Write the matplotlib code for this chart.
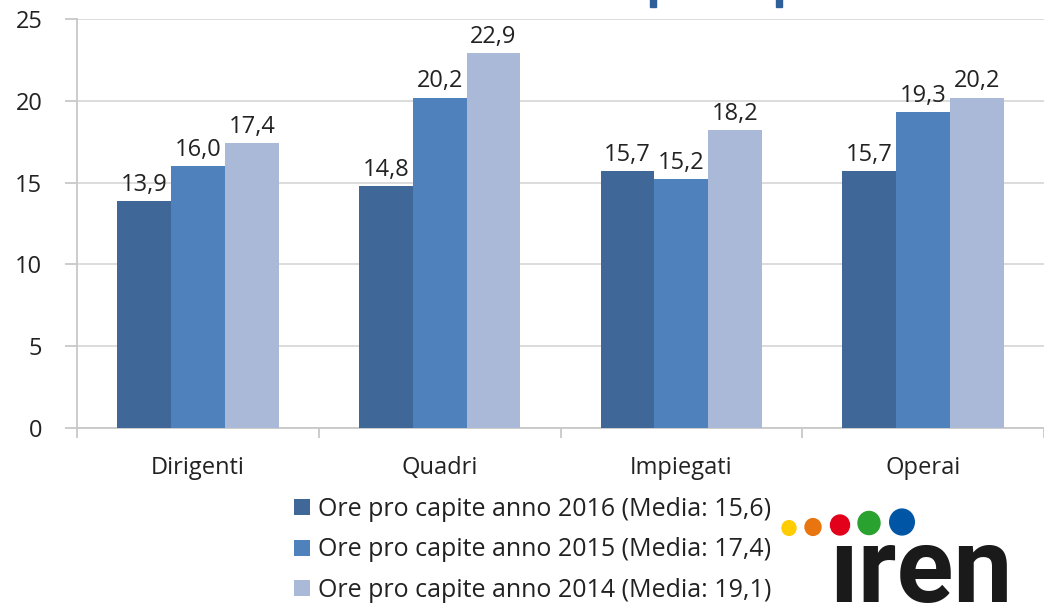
import numpy as np
import matplotlib.pyplot as plt
import matplotlib.patches as patches

plt.rcParams['font.family'] = ['Open Sans', 'DejaVu Sans']

# data
categories = ["Dirigenti", "Quadri", "Impiegati", "Operai"]
series_labels = [
    "Ore pro capite anno 2016 (Media: 15,6)",
    "Ore pro capite anno 2015 (Media: 17,4)",
    "Ore pro capite anno 2014 (Media: 19,1)",
]
ore_2016 = [13.9, 14.8, 15.7, 15.7]
ore_2015 = [16.0, 20.2, 15.2, 19.3]
ore_2014 = [17.4, 22.9, 18.2, 20.2]
y_ticks = [0, 5, 10, 15, 20, 25]

colors = ["#3F6899", "#4F81BD", "#AAB9D8"]
grid_col = "#D9D9D9"
axis_col = "#C8C8C8"

W, H = 1044, 603
fig = plt.figure(figsize=(W / 100, H / 100), dpi=100)
ax = fig.add_axes([77 / W, 1 - 428 / H, 1 - 77 / W, (428 - 19) / H])

x = np.arange(len(categories))
bw = 0.223
for i, vals in enumerate([ore_2016, ore_2015, ore_2014]):
    bars = ax.bar(x + (i - 1) * bw, vals, width=bw, color=colors[i],
                  label=series_labels[i], zorder=3)
    for b, v in zip(bars, vals):
        ax.text(b.get_x() + b.get_width() / 2, v + 0.25, f"{v:.1f}".replace(".", ","),
                ha="center", va="bottom", fontsize=17, color="#222222", zorder=4)

ax.set_xlim(-0.5, 3.5)
ax.set_ylim(0, 25)
ax.set_yticks(y_ticks)
ax.set_yticklabels([str(t) for t in y_ticks])
ax.yaxis.grid(True, color=grid_col, linewidth=1.3, zorder=0)

# category boundaries as minor ticks
ax.set_xticks(x)
ax.set_xticklabels(categories)
ax.set_xticks(np.arange(-0.5, 3.6, 1.0), minor=True)
ax.tick_params(axis="x", which="major", length=0, pad=20, labelsize=17, labelcolor="#222222")
ax.tick_params(axis="x", which="minor", length=7, width=1.3, color=axis_col)
ax.tick_params(axis="y", length=9, width=1.3, color=axis_col, pad=16,
               labelsize=17, labelcolor="#222222")

for s in ["top", "right"]:
    ax.spines[s].set_visible(False)
for s in ["left", "bottom"]:
    ax.spines[s].set_color(axis_col)
    ax.spines[s].set_linewidth(1.3)

leg = ax.legend(loc="upper left", bbox_to_anchor=(294 / W, 1 - 497 / H),
                bbox_transform=fig.transFigure, frameon=False, fontsize=18,
                handlelength=0.62, handleheight=0.6, handletextpad=0.33,
                labelspacing=0.62, borderpad=0, borderaxespad=0)
for t in leg.get_texts():
    t.set_color("#222222")

# remnants of the cropped title
for px in [650, 776]:
    fig.add_artist(patches.Rectangle((px / W, 1 - 7 / H), 6 / W, 8 / H,
                                     transform=fig.transFigure, color="#2F5F9A",
                                     clip_on=False))

# iren logo
dots = [(789, 528, 7, "#FFCC00"), (813, 527, 8, "#E8750F"), (840, 525, 9.5, "#E2001A"),
        (869, 523, 11, "#2AA22F"), (902, 522, 12.3, "#0056A4")]
for cx, cy, r, c in dots:
    fig.add_artist(patches.Ellipse((cx / W, 1 - cy / H), 2 * r / W, 2.1 * r / H,
                                   transform=fig.transFigure, color=c))
fig.text(829 / W, 1 - 602 / H, "\u0131ren", fontsize=76, fontweight="bold",
         family=["Roboto", "DejaVu Sans"], color="#1A1A1A",
         ha="left", va="baseline")

fig.savefig("out.png", dpi=100)
